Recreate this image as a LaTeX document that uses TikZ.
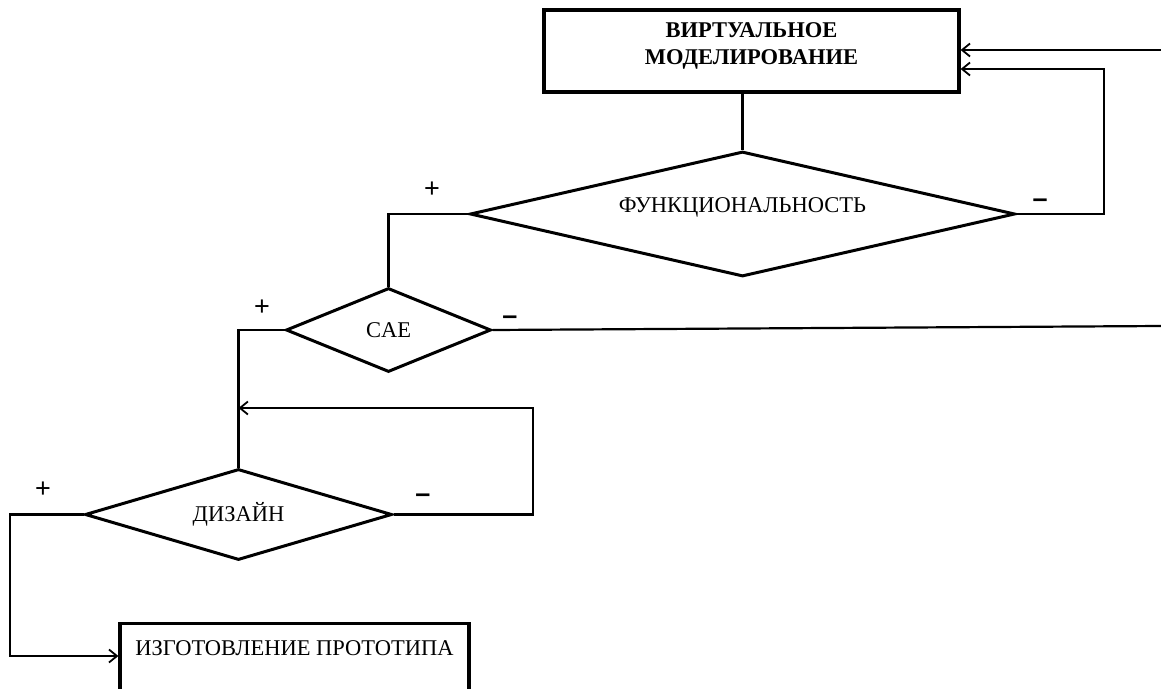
\documentclass[tikz,border=0pt]{standalone}
\usepackage{fontspec}
\setmainfont{Liberation Serif}
\newfontfamily\signfont{Liberation Sans}
\usetikzlibrary{shapes.geometric,arrows.meta}
\begin{document}
\begin{tikzpicture}[x=1pt,y=-1pt,
  every node/.style={font=\fontsize{22.5}{25}\selectfont},
  boxnode/.style={draw,line width=3.2pt,rectangle,inner sep=0pt,align=center},
  decision/.style={draw,line width=3pt,diamond,inner sep=0pt},
  conn/.style={line width=2.2pt},
  arr/.style={conn,-{Straight Barb[length=8pt,width=13pt,line width=1.8pt]}},
  sign/.style={font=\signfont\fontsize{27}{28}\selectfont,inner sep=0pt},
  minus/.style={font=\signfont\bfseries\fontsize{27}{28}\selectfont,inner sep=0pt}]
\useasboundingbox (0,0) rectangle (1161,688);
\clip (0,0) rectangle (1161,688);
\fill[white] (0,0) rectangle (1161,688);
% nodes
\node[boxnode,minimum width=415pt,minimum height=82pt,font=\bfseries\fontsize{22.5}{27}\selectfont] (top) at (751.5,51) {\raisebox{0pt}[0pt][0pt]{\begin{tabular}{@{}c@{}}ВИРТУАЛЬНОЕ\\МОДЕЛИРОВАНИЕ\end{tabular}}};
\node[decision,aspect=4.36,minimum width=545pt,minimum height=125pt] (func) at (742.5,214) {\raisebox{17pt}{ФУНКЦИОНАЛЬНОСТЬ}};
\node[decision,aspect=2.44,minimum width=205pt,minimum height=84pt] (cae) at (388.5,330) {CAE};
\node[decision,aspect=3.37,minimum width=307pt,minimum height=91pt] (diz) at (238.5,514.5) {\raisebox{3pt}{ДИЗАЙН}};
\node[draw,line width=3.2pt,rectangle,anchor=north,minimum width=349pt,minimum height=110pt,inner sep=0pt,text height=20pt,text depth=66pt] (proto) at (294.5,622) {ИЗГОТОВЛЕНИЕ ПРОТОТИПА};
% signs
\node[sign] (p1) at (432,190) {+};
\node[minus] (m1) at (1040,203) {–};
\node[sign] (p2) at (262,308) {+};
\node[minus] (m2) at (510,320) {–};
\node[sign] (p3) at (43,490) {+};
\node[minus] (m3) at (423,498) {–};
% coordinates
\coordinate (inA) at (1161,50);
\coordinate (r1) at (1104,69);
\coordinate (outB) at (1161,326);
\coordinate (r2) at (533,408);
\coordinate (l3) at (10,656);
% connectors
\draw[conn] (top.south -| func.north) -- (func.north);
\draw[arr] (inA) -- (top.east |- inA);
\draw[arr] (func.east) -| (r1) -- (top.east |- r1);
\draw[conn] (func.west) -| (cae.north);
\draw[conn] (cae.east) -- (outB);
\draw[conn] (cae.west) -| (diz.north);
\draw[arr] (diz.east) -| (r2) -- (diz.north |- r2);
\draw[arr] (diz.west) -| (l3) -- (proto.west |- l3);
\end{tikzpicture}
\end{document}
